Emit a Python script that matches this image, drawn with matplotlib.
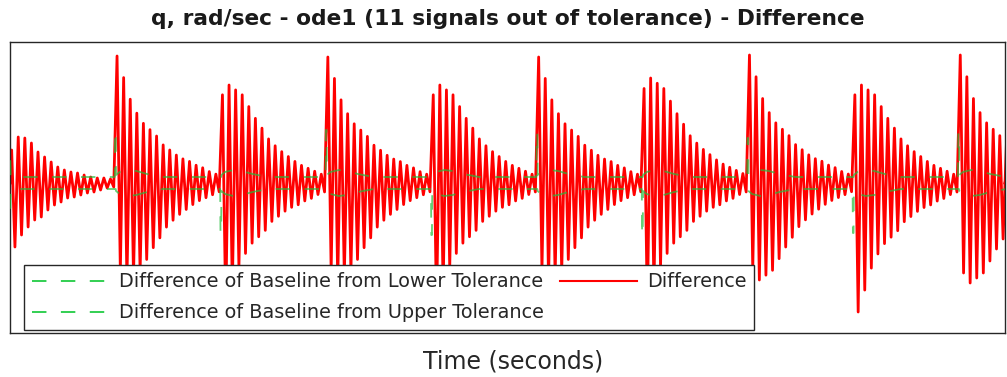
import numpy as np
import matplotlib
matplotlib.use('Agg')
from matplotlib import pyplot as plt

# burst onsets (seconds), one burst of 16 swings per second
onsets = [0, 1, 2, 3, 4, 5, 6, 7, 8, 9]
# 'A' = big swing up first, 'B' = big swing down (second half-cycle)
kind = ['0', 'A', 'B', 'A', 'B', 'A', 'B', 'A', 'B', 'A']
big_amp = [0, 1.27, 1.28, 1.26, 1.28, 1.26, 1.28, 1.28, 1.29, 1.28]
mid_amp = [0, 0.98, 0.98, 0.98, 0.98, 0.98, 1.05, 0.97, 0.98, 1.00]
# peak heights of the swings, relative
env_big = [1.0, 0.83, 0.66, 0.55, 0.47, 0.42, 0.37, 0.30,
           0.26, 0.22, 0.19, 0.17, 0.14, 0.12, 0.09, 0.07]
env_mid = [0.90, 1.0, 0.95, 0.90, 0.78, 0.66, 0.56, 0.45,
           0.38, 0.32, 0.27, 0.22, 0.18, 0.15, 0.12, 0.09]
# the first (partial) burst at t = 0
first_up = [0.33, 0.46, 0.45, 0.40, 0.31, 0.26, 0.21, 0.16,
            0.13, 0.11, 0.10, 0.08, 0.06, 0.05, 0.05, 0.04]
first_down = [0.64, 0.52, 0.44, 0.37, 0.34, 0.27, 0.22, 0.19,
              0.15, 0.14, 0.12, 0.10, 0.09, 0.07, 0.05, 0.04]

# tolerance band shape after each onset
tol_tau = [-0.006, -0.003, 0.003, 0.006, 0.04, 0.12, 0.2, 0.3, 0.45, 0.99]
tol_up = [0.06, 0.06, 0.06, 0.08, 0.11, 0.13, 0.12, 0.09, 0.06, 0.06]
tol_lo = [-0.06, -0.06, -0.06, -0.08, -0.11, -0.13, -0.12, -0.09, -0.06, -0.06]
spike = [0.0, 0.52, -0.50, 0.53, -0.52, 0.50, -0.52, 0.45, -0.50, 0.50]

xlim = [0, 9.44]
ylim = [-1.5, 1.41]

# difference signal: one point per half swing
t_diff = [0.0]
y_diff = [0.0]
for i, t0 in enumerate(onsets):
    for k in range(32):
        c = k // 2
        up = (k % 2 == 0)
        if kind[i] == '0':
            v = first_up[c] if up else -first_down[c]
        elif kind[i] == 'A':
            v = big_amp[i] * env_big[c] if up else -mid_amp[i] * env_mid[c]
        else:
            v = mid_amp[i] * env_mid[c] if up else -big_amp[i] * env_big[c]
        t_diff.append(t0 + (k + 0.5) / 32.0)
        y_diff.append(v)
t_diff.append(xlim[1])
y_diff.append(0.0)

# tolerance lines
t_tol = [0.0, 0.003, 0.006]
y_up = [0.22, 0.22, 0.06]
y_lo = [-0.25, -0.25, -0.06]
for i, t0 in enumerate(onsets[1:]):
    sp = spike[i + 1]
    for j, tau in enumerate(tol_tau):
        t_tol.append(t0 + tau)
        u = tol_up[j]
        l = tol_lo[j]
        if j in (1, 2):
            if sp > 0:
                u = sp
            else:
                l = sp
        y_up.append(u)
        y_lo.append(l)
t_tol.append(xlim[1])
y_up.append(0.06)
y_lo.append(-0.06)

fig = plt.figure(figsize=(10.07, 3.77), dpi=100)
ax = fig.add_axes([10 / 1007, 44 / 377, 995 / 1007, 291 / 377])

red, = ax.plot(t_diff, y_diff, color='red', lw=2.0, zorder=2)
dash = (0, (8, 8))
l1, = ax.plot(t_tol, y_lo, color='#22bb3a', lw=1.3, ls=dash, alpha=0.7, zorder=3)
l2, = ax.plot(t_tol, y_up, color='#22bb3a', lw=1.3, ls=dash, alpha=0.7, zorder=3)

ax.set_xlim(xlim)
ax.set_ylim(ylim)
ax.set_xticks([])
ax.set_yticks([])
for s in ax.spines.values():
    s.set_color('#262626')
    s.set_linewidth(1.0)

ax.set_title('q, rad/sec - ode1 (11 signals out of tolerance) - Difference',
             fontsize=15.7, fontweight='bold', color='#1a1a1a', pad=12)
ax.set_xlabel('Time (seconds)', fontsize=17, color='#262626')
ax.xaxis.set_label_coords(0.506, -0.055)

leg = ax.legend([l1, l2, red],
                ['Difference of Baseline from Lower Tolerance',
                 'Difference of Baseline from Upper Tolerance',
                 'Difference'],
                ncols=2, loc='lower left', bbox_to_anchor=(0.014, 0.01),
                borderaxespad=0, fontsize=13.9, handlelength=4.0,
                handletextpad=0.5, columnspacing=0.85, labelspacing=0.62,
                fancybox=False, framealpha=1, edgecolor='#262626',
                borderpad=0.4)
leg.get_frame().set_linewidth(1.0)
for txt in leg.get_texts():
    txt.set_color('#262626')
for h in leg.legend_handles[:2]:
    h.set_alpha(1)
    h.set_color('#22cc44')
leg.legend_handles[2].set_linewidth(1.5)

fig.savefig('out.png', dpi=100)
